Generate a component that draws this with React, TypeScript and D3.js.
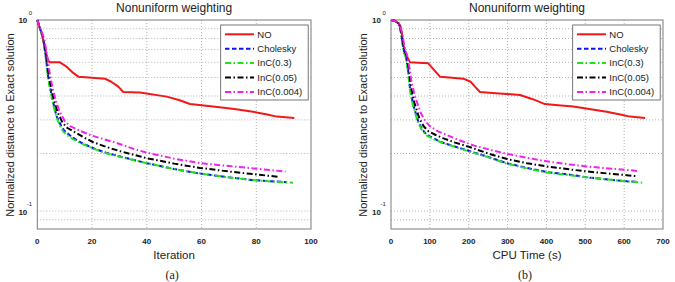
import React from "react";
import * as d3 from "d3";

type Pt = [number, number];

// Panel (a): normalized distance vs. iteration
const iterNO: Pt[] = [[0,1],[1.6,0.85],[2.6,0.73],[3.7,0.63],[4.4,0.6],[8.3,0.6],[10.7,0.569],[13,0.53],[15,0.505],[20,0.498],[24.7,0.493],[27,0.475],[29.6,0.448],[31.4,0.42],[37.5,0.417],[47.3,0.397],[52,0.38],[55.8,0.363],[64.2,0.352],[72,0.342],[78.8,0.331],[84,0.32],[87.5,0.312],[93.9,0.307]];
const iterCholesky: Pt[] = [[0,1],[1,0.9],[1.6,0.85],[2.2,0.8],[3.2,0.63],[4,0.5],[5,0.42],[5.8,0.37],[7,0.315],[8.9,0.275],[10,0.262],[13,0.242],[16,0.228],[20.5,0.213],[25,0.202],[30.2,0.193],[40,0.178],[50,0.166],[59.5,0.157],[70,0.15],[79,0.145],[91.2,0.1415]];
const iterInC03: Pt[] = [[0,1],[1,0.9],[1.6,0.84],[2.2,0.79],[3.1,0.63],[3.9,0.5],[4.9,0.42],[5.7,0.365],[7,0.31],[8.7,0.27],[10,0.256],[13,0.238],[16,0.226],[20.5,0.212],[25,0.201],[30.2,0.192],[40,0.178],[50,0.166],[59.5,0.157],[70,0.15],[79,0.145],[88,0.142],[93.4,0.1405]];
const iterInC005: Pt[] = [[0,1],[1,0.9],[1.7,0.85],[2.3,0.8],[3.3,0.64],[4.2,0.51],[5.2,0.43],[6.1,0.38],[7.4,0.33],[9.2,0.29],[11,0.272],[14.4,0.255],[17,0.243],[20.5,0.229],[25,0.217],[30,0.206],[40,0.189],[50,0.177],[59.5,0.168],[70,0.161],[79,0.156],[88,0.151]];
const iterInC0004: Pt[] = [[0,1],[1,0.9],[1.8,0.85],[2.5,0.8],[3.6,0.65],[4.6,0.52],[5.6,0.44],[6.5,0.39],[8,0.335],[10,0.296],[12,0.278],[15.6,0.263],[20,0.248],[25,0.236],[29,0.227],[35,0.212],[40,0.202],[50,0.188],[59.5,0.178],[70,0.172],[79,0.167],[90.7,0.161]];

// Panel (b): normalized distance vs. CPU time
const timeNO: Pt[] = [[0,1],[10,0.99],[20,0.96],[24,0.93],[28,0.85],[32,0.74],[36,0.683],[40,0.65],[49,0.6],[70,0.598],[96,0.593],[110,0.55],[126,0.505],[150,0.5],[186,0.493],[205,0.475],[216,0.448],[229,0.42],[260,0.415],[298,0.41],[332,0.405],[365,0.385],[396,0.363],[430,0.358],[469,0.352],[510,0.342],[555,0.331],[590,0.32],[615,0.312],[654,0.307]];
const timeCholesky: Pt[] = [[0,1],[10,0.99],[20,0.955],[23,0.923],[27.5,0.818],[31.7,0.711],[35,0.67],[38.6,0.643],[44.5,0.536],[48.9,0.439],[57.4,0.359],[70,0.294],[80,0.268],[92,0.25],[110,0.24],[130,0.229],[160,0.219],[195,0.208],[250,0.192],[298,0.178],[350,0.168],[401,0.16],[461,0.155],[504,0.15],[560,0.146],[607,0.143],[633,0.142]];
const timeInC03: Pt[] = [[0,1],[10,0.99],[20,0.955],[23,0.92],[27.3,0.81],[31.4,0.7],[34.8,0.665],[38.3,0.635],[44,0.53],[48.4,0.432],[57,0.353],[69.5,0.29],[80,0.265],[92,0.248],[110,0.238],[130,0.228],[160,0.218],[195,0.207],[250,0.191],[298,0.177],[350,0.167],[401,0.159],[461,0.154],[504,0.15],[560,0.146],[607,0.143],[648.5,0.1405]];
const timeInC005: Pt[] = [[0,1],[10,0.99],[20,0.958],[23,0.93],[28,0.83],[32.5,0.72],[36,0.68],[40,0.65],[46,0.55],[51,0.45],[60,0.37],[73,0.305],[84,0.278],[96,0.262],[115,0.25],[135,0.24],[165,0.228],[200,0.217],[250,0.2],[299,0.187],[350,0.178],[401,0.171],[461,0.165],[504,0.161],[560,0.157],[607,0.154],[633,0.152]];
const timeInC0004: Pt[] = [[0,1],[10,0.99],[20,0.96],[24,0.93],[29,0.84],[34,0.74],[37,0.69],[41,0.66],[47,0.57],[53,0.47],[63,0.39],[77,0.325],[88,0.296],[100,0.278],[120,0.262],[140,0.252],[175,0.235],[214,0.22],[260,0.208],[299,0.199],[350,0.19],[401,0.182],[461,0.175],[504,0.171],[560,0.167],[607,0.164],[636,0.162]];

const seriesNames = ["NO", "Cholesky", "InC(0.3)", "InC(0.05)", "InC(0.004)"];
const iterTicks = [0, 20, 40, 60, 80, 100];
const timeTicks = [0, 100, 200, 300, 400, 500, 600, 700];
const minorGrid = [0.09, 0.1, 0.2, 0.3, 0.4, 0.5, 0.6, 0.7, 0.8, 0.9];

const styles = [
  { color: "#f01818", dash: "" },
  { color: "#1010f0", dash: "4.5,2.5" },
  { color: "#22e022", dash: "6,2.5,1.5,2.5" },
  { color: "#000000", dash: "6,2.5,1.5,2.5" },
  { color: "#f020f0", dash: "6,2.5,1.5,2.5" },
];

const SANS = "'Liberation Sans', Arial, Helvetica, sans-serif";

interface PanelProps {
  left: number;
  right: number;
  xMax: number;
  xTicks: number[];
  xLabel: string;
  caption: string;
  data: Pt[][];
}

function Panel({ left, right, xMax, xTicks, xLabel, caption, data }: PanelProps) {
  const top = 20;
  const bottom = 229;
  const x = d3.scaleLinear().domain([0, xMax]).range([left, right]);
  const y = d3.scaleLog().domain([Math.pow(10, -1 - 18 / 191), 1]).range([bottom, top]);
  const line = d3
    .line<Pt>()
    .x((d) => x(d[0]))
    .y((d) => y(d[1]));
  const cx = (left + right) / 2;
  const legX = right - 90.3;
  const legY = 25;

  return (
    <g>
      {/* grid */}
      {xTicks.slice(1, -1).map((t) => (
        <line key={"vx" + t} x1={x(t)} x2={x(t)} y1={top} y2={bottom} stroke="#a0a0a0" strokeWidth={0.8} strokeDasharray="1,2" />
      ))}
      {minorGrid.map((v) => (
        <line key={"hy" + v} x1={left} x2={right} y1={y(v)} y2={y(v)} stroke="#a0a0a0" strokeWidth={0.8} strokeDasharray="1,2" />
      ))}
      {/* box */}
      <rect x={left} y={top} width={right - left} height={bottom - top} fill="none" stroke="#7a7a7a" strokeWidth={1} />
      {/* series */}
      {data.map((d, i) => (
        <path key={i} d={line(d) || ""} fill="none" stroke={styles[i].color} strokeWidth={2} strokeDasharray={styles[i].dash || undefined} strokeLinejoin="round" />
      ))}
      {/* x tick labels */}
      {xTicks.map((t) => (
        <text key={"xt" + t} x={x(t)} y={243.5} textAnchor="middle" fontFamily={SANS} fontSize={8} fontWeight="bold" fill="#222">
          {t}
        </text>
      ))}
      {/* y tick labels */}
      <text x={left - 10} y={y(1) + 3} textAnchor="end" fontFamily={SANS} fontSize={8} fontWeight="bold" fill="#222">10</text>
      <text x={left - 8.5} y={y(1) - 5.5} textAnchor="start" fontFamily={SANS} fontSize={6} fill="#222">0</text>
      <text x={left - 10} y={y(0.1) + 3.5} textAnchor="end" fontFamily={SANS} fontSize={8} fontWeight="bold" fill="#222">10</text>
      <text x={left - 10.5} y={y(0.1) - 5} textAnchor="start" fontFamily={SANS} fontSize={6} fill="#222">-1</text>
      {/* title and labels */}
      <text x={cx} y={12} textAnchor="middle" fontFamily={SANS} fontSize={12} fill="#222">Nonuniform weighting</text>
      <text x={cx} y={259} textAnchor="middle" fontFamily={SANS} fontSize={11.5} fill="#222">{xLabel}</text>
      <text transform={`translate(${left - 23.8},${125}) rotate(-90)`} textAnchor="middle" fontFamily={SANS} fontSize={11} fill="#222">
        Normalized distance to Exact solution
      </text>
      <text x={cx - 2} y={278.5} textAnchor="middle" fontFamily="'Liberation Serif', 'Times New Roman', serif" fontSize={12} fill="#222">{caption}</text>
      {/* legend */}
      <rect x={legX} y={legY} width={87.5} height={75} fill="#fff" stroke="#555" strokeWidth={0.8} />
      {seriesNames.map((name, i) => {
        const ly = legY + 9.3 + i * 14.4;
        return (
          <g key={name}>
            <line x1={legX + 4.3} x2={legX + 33.3} y1={ly} y2={ly} stroke={styles[i].color} strokeWidth={2} strokeDasharray={styles[i].dash || undefined} />
            <text x={legX + 36.6} y={ly + 3.3} fontFamily={SANS} fontSize={9.5} fill="#222">{name}</text>
          </g>
        );
      })}
    </g>
  );
}

export default function App() {
  return (
    <svg width={675} height={282} style={{ position: "absolute", left: 0, top: 0, background: "#fff" }}>
      <rect width={675} height={282} fill="#fff" />
      <Panel left={37.3} right={311} xMax={100} xTicks={iterTicks} xLabel="Iteration" caption="(a)"
        data={[iterNO, iterCholesky, iterInC03, iterInC005, iterInC0004]} />
      <Panel left={391} right={663} xMax={700} xTicks={timeTicks} xLabel="CPU Time (s)" caption="(b)"
        data={[timeNO, timeCholesky, timeInC03, timeInC005, timeInC0004]} />
    </svg>
  );
}
